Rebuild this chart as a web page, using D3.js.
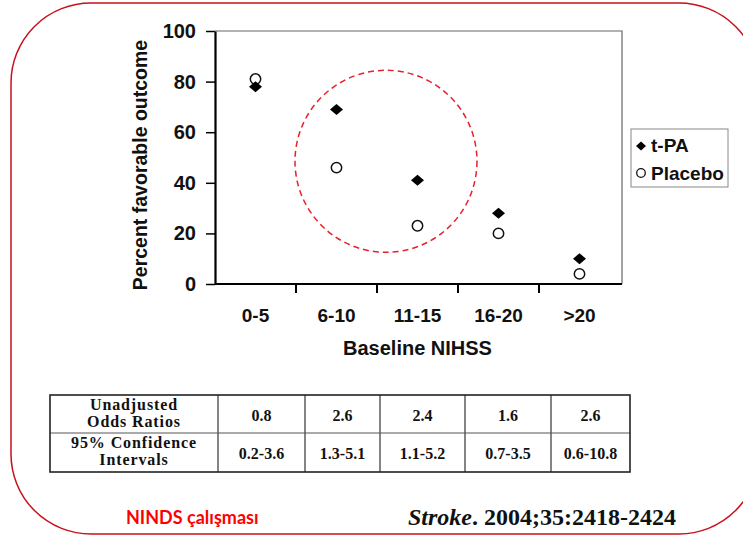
<!DOCTYPE html>
<html>
<head>
<meta charset="utf-8">
<script src="https://cdn.jsdelivr.net/npm/d3@7"></script>
<style>
  body { margin: 0; background: #fff; }
  svg { display: block; }
</style>
</head>
<body>
<div id="chart"></div>
<script>
const width = 743;
const height = 536;
const margin = { top: 31, right: 121, bottom: 252, left: 215 };

// data
const categories = ["0-5", "6-10", "11-15", "16-20", ">20"];
const tpa = [78, 69, 41, 28, 10];
const placebo = [81, 46, 23, 20, 4];
const yTicks = [0, 20, 40, 60, 80, 100];
const oddsRatios = ["0.8", "2.6", "2.4", "1.6", "2.6"];
const confIntervals = ["0.2-3.6", "1.3-5.1", "1.1-5.2", "0.7-3.5", "0.6-10.8"];
const rowHeaders = [["Unadjusted", "Odds Ratios"], ["95% Confidence", "Intervals"]];

const sans = "'Liberation Sans', Arial, sans-serif";
const serif = "'Liberation Serif', 'Times New Roman', serif";

const svg = d3.select("#chart")
    .append("svg")
    .attr("width", width)
    .attr("height", height);

// red rounded frame
svg.append("rect")
    .attr("x", 11)
    .attr("y", 3)
    .attr("width", 748)
    .attr("height", 531)
    .attr("rx", 80)
    .attr("fill", "none")
    .attr("stroke", "#c8101c")
    .attr("stroke-width", 1.5);

const x0 = margin.left, x1 = width - margin.right - 2;
const yTop = margin.top, yBot = height - margin.bottom;

const xScale = d3.scaleBand().domain(categories).range([x0, x1]).padding(0);
const yScale = d3.scaleLinear().domain([0, 100]).range([yBot, yTop]);

// top / right frame of the plot
svg.append("path")
    .attr("d", `M${x0},${yTop}H${x1 + 2}V${yBot}`)
    .attr("fill", "none")
    .attr("stroke", "#666")
    .attr("stroke-width", 1.2);

// y axis
const yAxisGroup = svg.append("g")
    .attr("transform", `translate(${x0},0)`)
    .call(d3.axisLeft(yScale).tickValues(yTicks).tickSize(9).tickSizeOuter(0).tickPadding(10));
yAxisGroup.select(".domain").attr("stroke", "#000").attr("stroke-width", 2.2);
yAxisGroup.selectAll(".tick line").attr("stroke", "#000").attr("stroke-width", 1.5);
yAxisGroup.selectAll("text")
    .style("font-family", sans)
    .style("font-size", "20px")
    .style("font-weight", "bold")
    .attr("fill", "#111");

// x axis
const xAxisGroup = svg.append("g")
    .attr("transform", `translate(0,${yBot})`)
    .call(d3.axisBottom(xScale).tickSize(0).tickPadding(25));
xAxisGroup.select(".domain")
    .attr("d", `M${x0},0H${x1 + 2}`)
    .attr("stroke", "#000")
    .attr("stroke-width", 2.2);
xAxisGroup.selectAll("text")
    .style("font-family", sans)
    .style("font-size", "19px")
    .style("font-weight", "bold")
    .attr("fill", "#111");

// ticks between categories
xAxisGroup.selectAll(".sep")
    .data(categories.slice(1))
    .enter()
    .append("line")
    .attr("class", "sep")
    .attr("x1", d => xScale(d))
    .attr("x2", d => xScale(d))
    .attr("y1", 0)
    .attr("y2", 9)
    .attr("stroke", "#000")
    .attr("stroke-width", 2);

// axis titles
svg.append("text")
    .attr("x", (x0 + x1) / 2)
    .attr("y", 355)
    .attr("text-anchor", "middle")
    .style("font-family", sans)
    .style("font-size", "20px")
    .style("font-weight", "bold")
    .attr("fill", "#111")
    .text("Baseline NIHSS");
svg.append("text")
    .attr("transform", "rotate(-90)")
    .attr("x", -165)
    .attr("y", 147)
    .attr("text-anchor", "middle")
    .style("font-family", sans)
    .style("font-size", "19.5px")
    .style("font-weight", "bold")
    .attr("fill", "#111")
    .text("Percent favorable outcome");

// highlight circle
svg.append("circle")
    .attr("cx", xScale("11-15") + 9)
    .attr("cy", yScale(48.5))
    .attr("r", 91)
    .attr("fill", "none")
    .attr("stroke", "#e8202a")
    .attr("stroke-width", 1.5)
    .attr("stroke-dasharray", "6,4");

const diamond = (w, h) => `M0,${-h}L${w},0L0,${h}L${-w},0Z`;
const cx = d => xScale(d) + xScale.bandwidth() / 2;

// placebo points
svg.selectAll(".placebo")
    .data(categories)
    .enter()
    .append("circle")
    .attr("class", "placebo")
    .attr("cx", cx)
    .attr("cy", (d, i) => yScale(placebo[i]))
    .attr("r", 5.2)
    .attr("fill", "#fff")
    .attr("stroke", "#111")
    .attr("stroke-width", 1.5);

// t-PA points
svg.selectAll(".tpa")
    .data(categories)
    .enter()
    .append("path")
    .attr("class", "tpa")
    .attr("d", diamond(6.5, 5.5))
    .attr("transform", (d, i) => `translate(${cx(d)},${yScale(tpa[i])})`)
    .attr("fill", "#000");

// legend
const legend = svg.append("g");
legend.append("rect")
    .attr("x", 631)
    .attr("y", 129)
    .attr("width", 97)
    .attr("height", 58)
    .attr("fill", "#fff")
    .attr("stroke", "#888")
    .attr("stroke-width", 1);
legend.append("path")
    .attr("d", diamond(5, 4.5))
    .attr("transform", "translate(641,146)")
    .attr("fill", "#000");
legend.append("circle")
    .attr("cx", 641)
    .attr("cy", 173)
    .attr("r", 4.3)
    .attr("fill", "#fff")
    .attr("stroke", "#111")
    .attr("stroke-width", 1.3);
legend.selectAll(".ltxt")
    .data(["t-PA", "Placebo"])
    .enter()
    .append("text")
    .attr("x", 651)
    .attr("y", (d, i) => 152 + i * 28)
    .style("font-family", sans)
    .style("font-size", "19px")
    .style("font-weight", "bold")
    .attr("fill", "#111")
    .text(d => d);

// table below the chart
const colEdges = [50, 218, 305, 380, 465, 551, 630];
const rowEdges = [395, 433, 472];
const table = svg.append("g");

colEdges.slice(1, -1).forEach(xv => {
    table.append("line")
        .attr("x1", xv).attr("x2", xv)
        .attr("y1", rowEdges[0]).attr("y2", rowEdges[2])
        .attr("stroke", "#333").attr("stroke-width", 1.2);
});
table.append("line")
    .attr("x1", colEdges[0]).attr("x2", colEdges[6])
    .attr("y1", rowEdges[1]).attr("y2", rowEdges[1])
    .attr("stroke", "#555").attr("stroke-width", 1);
table.append("rect")
    .attr("x", colEdges[0])
    .attr("y", rowEdges[0])
    .attr("width", colEdges[6] - colEdges[0])
    .attr("height", rowEdges[2] - rowEdges[0])
    .attr("fill", "none")
    .attr("stroke", "#222")
    .attr("stroke-width", 1.6);

rowHeaders.forEach((lines, r) => {
    lines.forEach((t, k) => {
        table.append("text")
            .attr("x", (colEdges[0] + colEdges[1]) / 2)
            .attr("y", rowEdges[r] + 15 + k * 16.5)
            .attr("text-anchor", "middle")
            .style("font-family", serif)
            .style("font-size", "16px")
            .style("font-weight", "bold")
            .style("letter-spacing", "0.9px")
            .attr("fill", "#111")
            .text(t);
    });
});

[oddsRatios, confIntervals].forEach((vals, r) => {
    table.selectAll(".v" + r)
        .data(vals)
        .enter()
        .append("text")
        .attr("x", (d, i) => (colEdges[i + 1] + colEdges[i + 2]) / 2)
        .attr("y", rowEdges[r] + 25.5)
        .attr("text-anchor", "middle")
        .style("font-family", serif)
        .style("font-size", "16px")
        .style("font-weight", "bold")
        .attr("fill", "#111")
        .text(d => d);
});

// footer
svg.append("text")
    .attr("x", 126)
    .attr("y", 524)
    .style("font-family", "Lato, 'Open Sans', sans-serif")
    .style("font-size", "18px")
    .style("font-weight", "bold")
    .attr("fill", "#ff0000")
    .text("NINDS çalışması");

const cite = svg.append("text")
    .attr("x", 408)
    .attr("y", 525)
    .style("font-family", serif)
    .style("font-size", "24px")
    .style("font-weight", "bold")
    .attr("fill", "#111");
cite.append("tspan").style("font-style", "italic").text("Stroke");
cite.append("tspan").text(". 2004;35:2418-2424");
</script>
</body>
</html>
